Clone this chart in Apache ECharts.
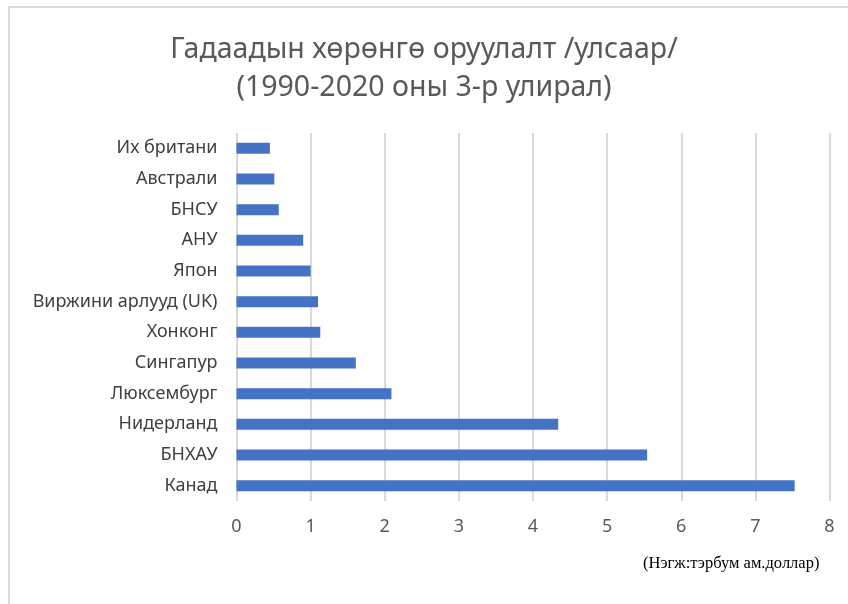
<!DOCTYPE html>
<html>
<head>
<meta charset="utf-8">
<script src="https://cdn.jsdelivr.net/npm/echarts@6/dist/echarts.min.js"></script>
<style>
  html, body { margin: 0; padding: 0; background: #fff; }
  #chart { width: 848px; height: 604px; }
</style>
</head>
<body>
<div id="chart"></div>
<script>
// Countries, listed bottom-to-top as they appear on the category axis
const countries = ['Канад', 'БНХАУ', 'Нидерланд', 'Люксембург', 'Сингапур', 'Хонконг',
  'Виржини арлууд (UK)', 'Япон', 'АНУ', 'БНСУ', 'Австрали', 'Их британи'];
// Foreign direct investment, billion USD
const investment = [7.53, 5.54, 4.34, 2.09, 1.61, 1.13, 1.10, 1.00, 0.90, 0.57, 0.51, 0.45];
const xTicks = [0, 1, 2, 3, 4, 5, 6, 7, 8];

const titleText = 'Гадаадын хөрөнгө оруулалт /улсаар/\n(1990-2020 оны 3-р улирал)';
const unitText = '(Нэгж:тэрбум ам.доллар)';

const chart = echarts.init(document.getElementById('chart'), null, { renderer: 'canvas' });
chart.setOption({
  animation: false,
  backgroundColor: '#ffffff',
  title: {
    text: titleText,
    left: 'center',
    top: 26,
    textStyle: {
      fontFamily: 'Noto Sans',
      fontSize: 28.5,
      fontWeight: 'normal',
      color: '#595959',
      lineHeight: 38
    }
  },
  graphic: [
    {
      type: 'rect',
      shape: { x: 9, y: 7, width: 900, height: 700 },
      style: { fill: 'none', stroke: '#d9d9d9', lineWidth: 2 },
      silent: true
    },
    {
      type: 'text',
      left: 643,
      top: 555,
      style: {
        text: unitText,
        font: '16.5px "Liberation Serif"',
        fill: '#000000'
      }
    }
  ],
  grid: { left: 236.5, right: 18.5, top: 133, bottom: 103, containLabel: false },
  xAxis: {
    type: 'value',
    min: xTicks[0],
    max: xTicks[xTicks.length - 1],
    interval: 1,
    axisLine: { show: false },
    axisTick: { show: false },
    axisLabel: { color: '#595959', fontSize: 18, fontFamily: 'Noto Sans', margin: 17 },
    splitLine: { show: true, lineStyle: { color: '#d9d9d9', width: 2 } }
  },
  yAxis: {
    type: 'category',
    data: countries,
    axisLine: { show: false },
    axisTick: { show: false },
    axisLabel: { color: '#404040', fontSize: 18, fontFamily: 'Noto Sans', margin: 19 }
  },
  series: [{
    type: 'bar',
    data: investment,
    barWidth: 11,
    itemStyle: { color: '#4472c4' }
  }]
});
</script>
</body>
</html>
